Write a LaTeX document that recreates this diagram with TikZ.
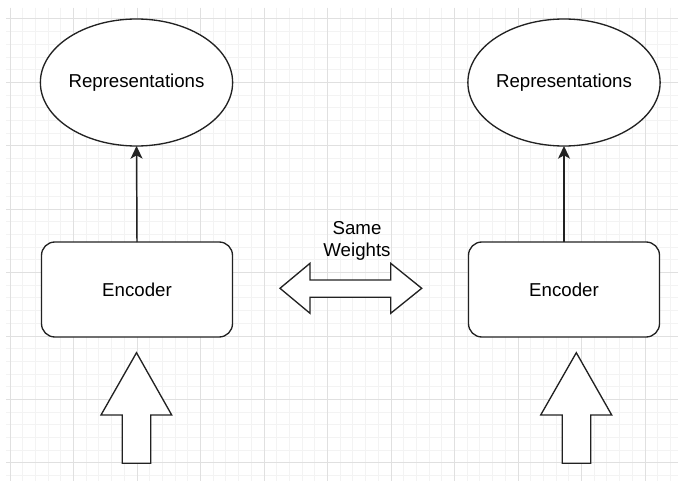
\documentclass[tikz,border=0pt]{standalone}
\usepackage{fontspec}
\setmainfont{Liberation Sans}
\usetikzlibrary{shapes.geometric,arrows.meta}
\definecolor{gridminor}{HTML}{F3F3F3}
\definecolor{gridmajor}{HTML}{E0E0E0}
\definecolor{strokec}{HTML}{222222}
\tikzset{
  shapeline/.style={draw=strokec, line width=1pt, fill=white},
  repnode/.style={shapeline, ellipse, minimum width=143.25pt, minimum height=95.25pt, inner sep=0pt, outer sep=0pt, font=\fontsize{14}{16.5}\selectfont},
  encnode/.style={shapeline, rectangle, rounded corners=10pt, minimum width=143.25pt, minimum height=71.25pt, inner sep=0pt, outer sep=0pt, font=\fontsize{14}{16.5}\selectfont},
  labelnode/.style={align=center, inner sep=0pt, font=\fontsize{14}{16.5}\selectfont},
  conn/.style={draw=strokec, line width=1.1pt, -{Stealth[length=9.5pt, width=9pt, inset=2.5pt]}},
  bigarrow/.style={shapeline, line join=miter}
}
\begin{document}
\begin{tikzpicture}[x=0.75pt, y=-0.75pt]
\useasboundingbox (0,0) rectangle (678,481);
\fill[white] (0,0) rectangle (678,481);
% grid
\foreach \k in {0,...,52} {
  \pgfmathsetmacro{\gx}{10+12.7*\k}
  \draw[gridminor, line width=0.75pt] (\gx,8) -- (\gx,481);
}
\foreach \k in {0,...,36} {
  \pgfmathsetmacro{\gy}{19+12.68*\k}
  \draw[gridminor, line width=0.75pt] (6,\gy) -- (678,\gy);
}
\foreach \k in {0,...,10} {
  \pgfmathsetmacro{\gx}{10+63.5*\k}
  \draw[gridmajor, line width=0.75pt] (\gx,8) -- (\gx,481);
}
\foreach \k in {0,...,7} {
  \pgfmathsetmacro{\gy}{19+63.4*\k}
  \draw[gridmajor, line width=0.75pt] (6,\gy) -- (678,\gy);
}
% nodes
\node[repnode] (rep1) at (136.5,82.5) {Representations};
\node[repnode] (rep2) at (564,82.5) {Representations};
\node[encnode] (enc1) at (137,289.5) {Encoder};
\node[encnode] (enc2) at (564,289.5) {Encoder};
\node[labelnode] (same) at (357,241) {Same\\Weights};
% connectors
\draw[conn] (enc1.north) -- (rep1.south);
\draw[conn] (enc2.north) -- (rep2.south);
% double arrow
\draw[bigarrow] (280,288.3) -- (310,263.3) -- (310,280) -- (390.7,280) -- (390.7,263.3) -- (421.7,288.3) -- (390.7,313.3) -- (390.7,297.3) -- (310,297.3) -- (310,313.3) -- cycle;
% input arrows
\draw[bigarrow] (136.5,352.7) -- (171.7,415) -- (150.7,415) -- (150.7,463.3) -- (122.3,463.3) -- (122.3,415) -- (101,415) -- cycle;
\draw[bigarrow] (576.3,352.7) -- (611.7,415) -- (590.7,415) -- (590.7,463.3) -- (562.3,463.3) -- (562.3,415) -- (540.7,415) -- cycle;
\end{tikzpicture}
\end{document}
